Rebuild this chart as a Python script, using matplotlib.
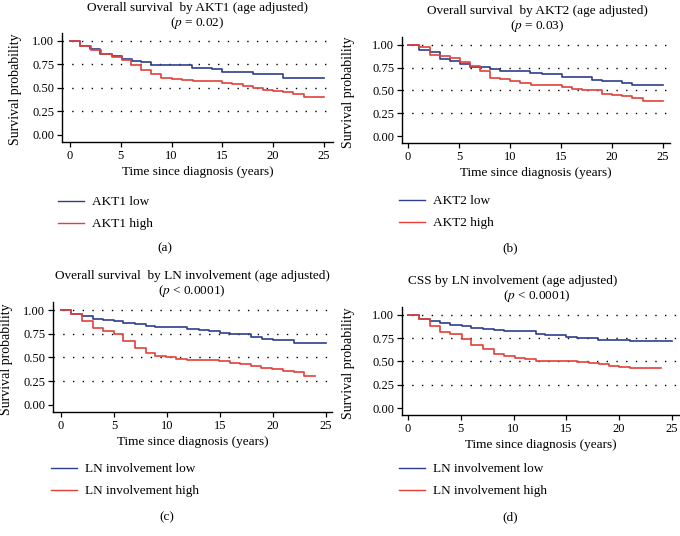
import matplotlib
matplotlib.use("Agg")
import matplotlib.pyplot as plt
from matplotlib.lines import Line2D

plt.rcParams["font.family"] = ["Liberation Serif", "DejaVu Serif"]
plt.rcParams["mathtext.fontset"] = "stix"

# ======================
# Data
# ======================

# (a) AKT1
a_low_t = [0, 1, 2, 3, 4.1, 5.1, 6.1, 7, 8, 12, 14, 15, 18, 21, 25]
a_low_s = [1.0, 0.946, 0.91, 0.857, 0.84, 0.81, 0.79, 0.78, 0.74, 0.714, 0.70, 0.67, 0.65, 0.61, 0.61]
a_high_t = [0, 1, 2.06, 3.05, 4.1, 5.1, 6, 7, 8, 9, 10, 11, 12.1, 15, 16, 17, 18, 19, 20, 21, 22, 23, 25]
a_high_s = [1.0, 0.946, 0.90, 0.857, 0.83, 0.80, 0.74, 0.69, 0.65, 0.61, 0.60, 0.59, 0.57, 0.555,
            0.54, 0.525, 0.50, 0.48, 0.47, 0.455, 0.435, 0.40, 0.40]

# (b) AKT2
b_low_t = [0, 1.1, 2.2, 3.1, 4.1, 5.1, 6.1, 8, 9, 12, 13.1, 15.1, 18, 19, 21, 22, 25]
b_low_s = [1.0, 0.946, 0.92, 0.84, 0.82, 0.786, 0.76, 0.74, 0.71, 0.69, 0.68, 0.65, 0.61, 0.60,
           0.58, 0.56, 0.56]
b_high_t = [0, 1.1, 2.2, 3.1, 4.1, 5.1, 6.1, 7.1, 8, 9, 10, 11, 12.1, 15.1, 16.1, 17.1, 19, 20,
            21, 22, 23.1, 25]
b_high_s = [1.0, 0.98, 0.89, 0.875, 0.85, 0.815, 0.766, 0.71, 0.64, 0.62, 0.605, 0.58, 0.56, 0.54,
            0.52, 0.50, 0.46, 0.45, 0.435, 0.42, 0.38, 0.38]

# (c) LN involvement, overall survival
c_low_t = [0, 0.95, 2, 3, 4, 5, 5.9, 7, 8, 8.9, 11.9, 13, 14, 15, 16, 17.9, 19, 20, 21, 22, 25]
c_low_s = [1.0, 0.957, 0.936, 0.91, 0.90, 0.88, 0.864, 0.85, 0.836, 0.82, 0.80, 0.786, 0.775, 0.76,
           0.75, 0.714, 0.70, 0.686, 0.68, 0.654, 0.654]
c_high_t = [0, 0.95, 2, 3, 4, 5, 5.9, 7, 8, 8.9, 9.9, 10.9, 11.9, 14.9, 16, 16.9, 17.9, 18.9, 19.9,
            21, 22, 23, 24]
c_high_s = [1.0, 0.957, 0.88, 0.81, 0.78, 0.75, 0.67, 0.60, 0.55, 0.52, 0.50, 0.48, 0.47, 0.46,
            0.44, 0.43, 0.41, 0.386, 0.375, 0.357, 0.346, 0.30, 0.30]

# (d) LN involvement, CSS
d_low_t = [0, 1, 2.1, 3, 4, 5.1, 6, 7.1, 8.1, 9.1, 12.1, 13, 15, 16, 18, 21, 25]
d_low_s = [1.0, 0.957, 0.935, 0.91, 0.896, 0.88, 0.86, 0.85, 0.84, 0.825, 0.79, 0.78, 0.76, 0.75,
           0.73, 0.716, 0.716]
d_high_t = [0, 1, 2.1, 3, 4, 5.1, 6, 7.1, 8.1, 9.1, 10.1, 11.1, 12.1, 15, 16, 17.1, 18.1, 19,
            20, 21, 24]
d_high_s = [1.0, 0.957, 0.88, 0.82, 0.79, 0.74, 0.68, 0.63, 0.58, 0.56, 0.54, 0.53, 0.51, 0.50,
            0.49, 0.48, 0.47, 0.45, 0.44, 0.43, 0.43]

yticks = [0.0, 0.25, 0.50, 0.75, 1.00]
xticks = [0, 5, 10, 15, 20, 25]

BLUE = "#2e3d8c"
RED = "#e3403a"

W, H = 680, 536
fig = plt.figure(figsize=(6.8, 5.36), dpi=100)


def px_rect(x0, y0, x1, y1):
    # pixel box (top-left origin) -> figure fraction rect
    return [x0 / W, 1 - y1 / H, (x1 - x0) / W, (y1 - y0) / H]


def ftext(x, y, s, **kw):
    fig.text(x / W, 1 - y / H, s, ha="center", va="center", **kw)


panels = [
    dict(rect=(62, 33, 333, 142), xlim=(-0.79, 25.9),
         low=(a_low_t, a_low_s), high=(a_high_t, a_high_s),
         labels=("AKT1 low", "AKT1 high"),
         t1=("Overall survival  by AKT1 (age adjusted)", 197, 8),
         t2=("($\\it{p}$ = 0.02)", 197, 23),
         leg=(58, 196), tag=("(a)", 165, 248), ylx=15),
    dict(rect=(402, 37, 670, 143), xlim=(-0.59, 25.7),
         low=(b_low_t, b_low_s), high=(b_high_t, b_high_s),
         labels=("AKT2 low", "AKT2 high"),
         t1=("Overall survival  by AKT2 (age adjusted)", 537, 11),
         t2=("($\\it{p}$ = 0.03)", 537, 26),
         leg=(399, 195), tag=("(b)", 510, 248), ylx=349),
    dict(rect=(53, 302, 332, 412), xlim=(-0.76, 25.6),
         low=(c_low_t, c_low_s), high=(c_high_t, c_high_s),
         labels=("LN involvement low", "LN involvement high"),
         t1=("Overall survival  by LN involvement (age adjusted)", 192, 276),
         t2=("($\\it{p}$ < 0.0001)", 192, 291),
         leg=(51, 463), tag=("(c)", 167, 517), ylx=7),
    dict(rect=(402, 307, 680, 415), xlim=(-0.57, 25.76),
         low=(d_low_t, d_low_s), high=(d_high_t, d_high_s),
         labels=("LN involvement low", "LN involvement high"),
         t1=("CSS by LN involvement (age adjusted)", 513, 281),
         t2=("($\\it{p}$ < 0.0001)", 537, 296),
         leg=(399, 463), tag=("(d)", 510, 517), ylx=349),
]

for p in panels:
    ax = fig.add_axes(px_rect(*p["rect"]))
    ax.set_xlim(*p["xlim"])
    ax.set_ylim(-0.075, 1.085)

    for gy in yticks[1:]:
        ax.axhline(gy, color="black", linestyle=(0, (1, 6)), linewidth=1.0, zorder=1)

    ax.step(p["low"][0], p["low"][1], where="post", color=BLUE, linewidth=1.2, zorder=3)
    ax.step(p["high"][0], p["high"][1], where="post", color=RED, linewidth=1.2, zorder=3)

    for side in ["top", "right"]:
        ax.spines[side].set_visible(False)
    ax.spines["left"].set_linewidth(1.0)
    ax.spines["bottom"].set_linewidth(1.0)

    ax.set_xticks(xticks)
    ax.set_xticklabels([str(v) for v in xticks])
    ax.set_yticks(yticks)
    ax.set_yticklabels(["%.2f" % v for v in yticks])
    ax.tick_params(direction="out", length=3.5, width=0.9, labelsize=9, pad=2)

    ax.set_xlabel("Time since diagnosis (years)", fontsize=9.5, labelpad=3)

    # y label placed in figure pixels
    r = p["rect"]
    ftext(p["ylx"], (r[1] + r[3]) / 2 + 2, "Survival probability", rotation=90, fontsize=10)

    ftext(p["t1"][1], p["t1"][2], p["t1"][0], fontsize=9.5)
    ftext(p["t2"][1], p["t2"][2], p["t2"][0], fontsize=9.5)

    handles = [Line2D([], [], color=BLUE, linewidth=1.0),
               Line2D([], [], color=RED, linewidth=1.0)]
    fig.legend(handles, p["labels"], loc="upper left",
               bbox_to_anchor=(p["leg"][0] / W, 1 - p["leg"][1] / H),
               frameon=False, fontsize=9.5, handlelength=2.0, handletextpad=0.6,
               labelspacing=0.75, borderaxespad=0, borderpad=0)

    ftext(p["tag"][1], p["tag"][2], p["tag"][0], fontsize=9.5)

fig.savefig("out.png", dpi=100)
